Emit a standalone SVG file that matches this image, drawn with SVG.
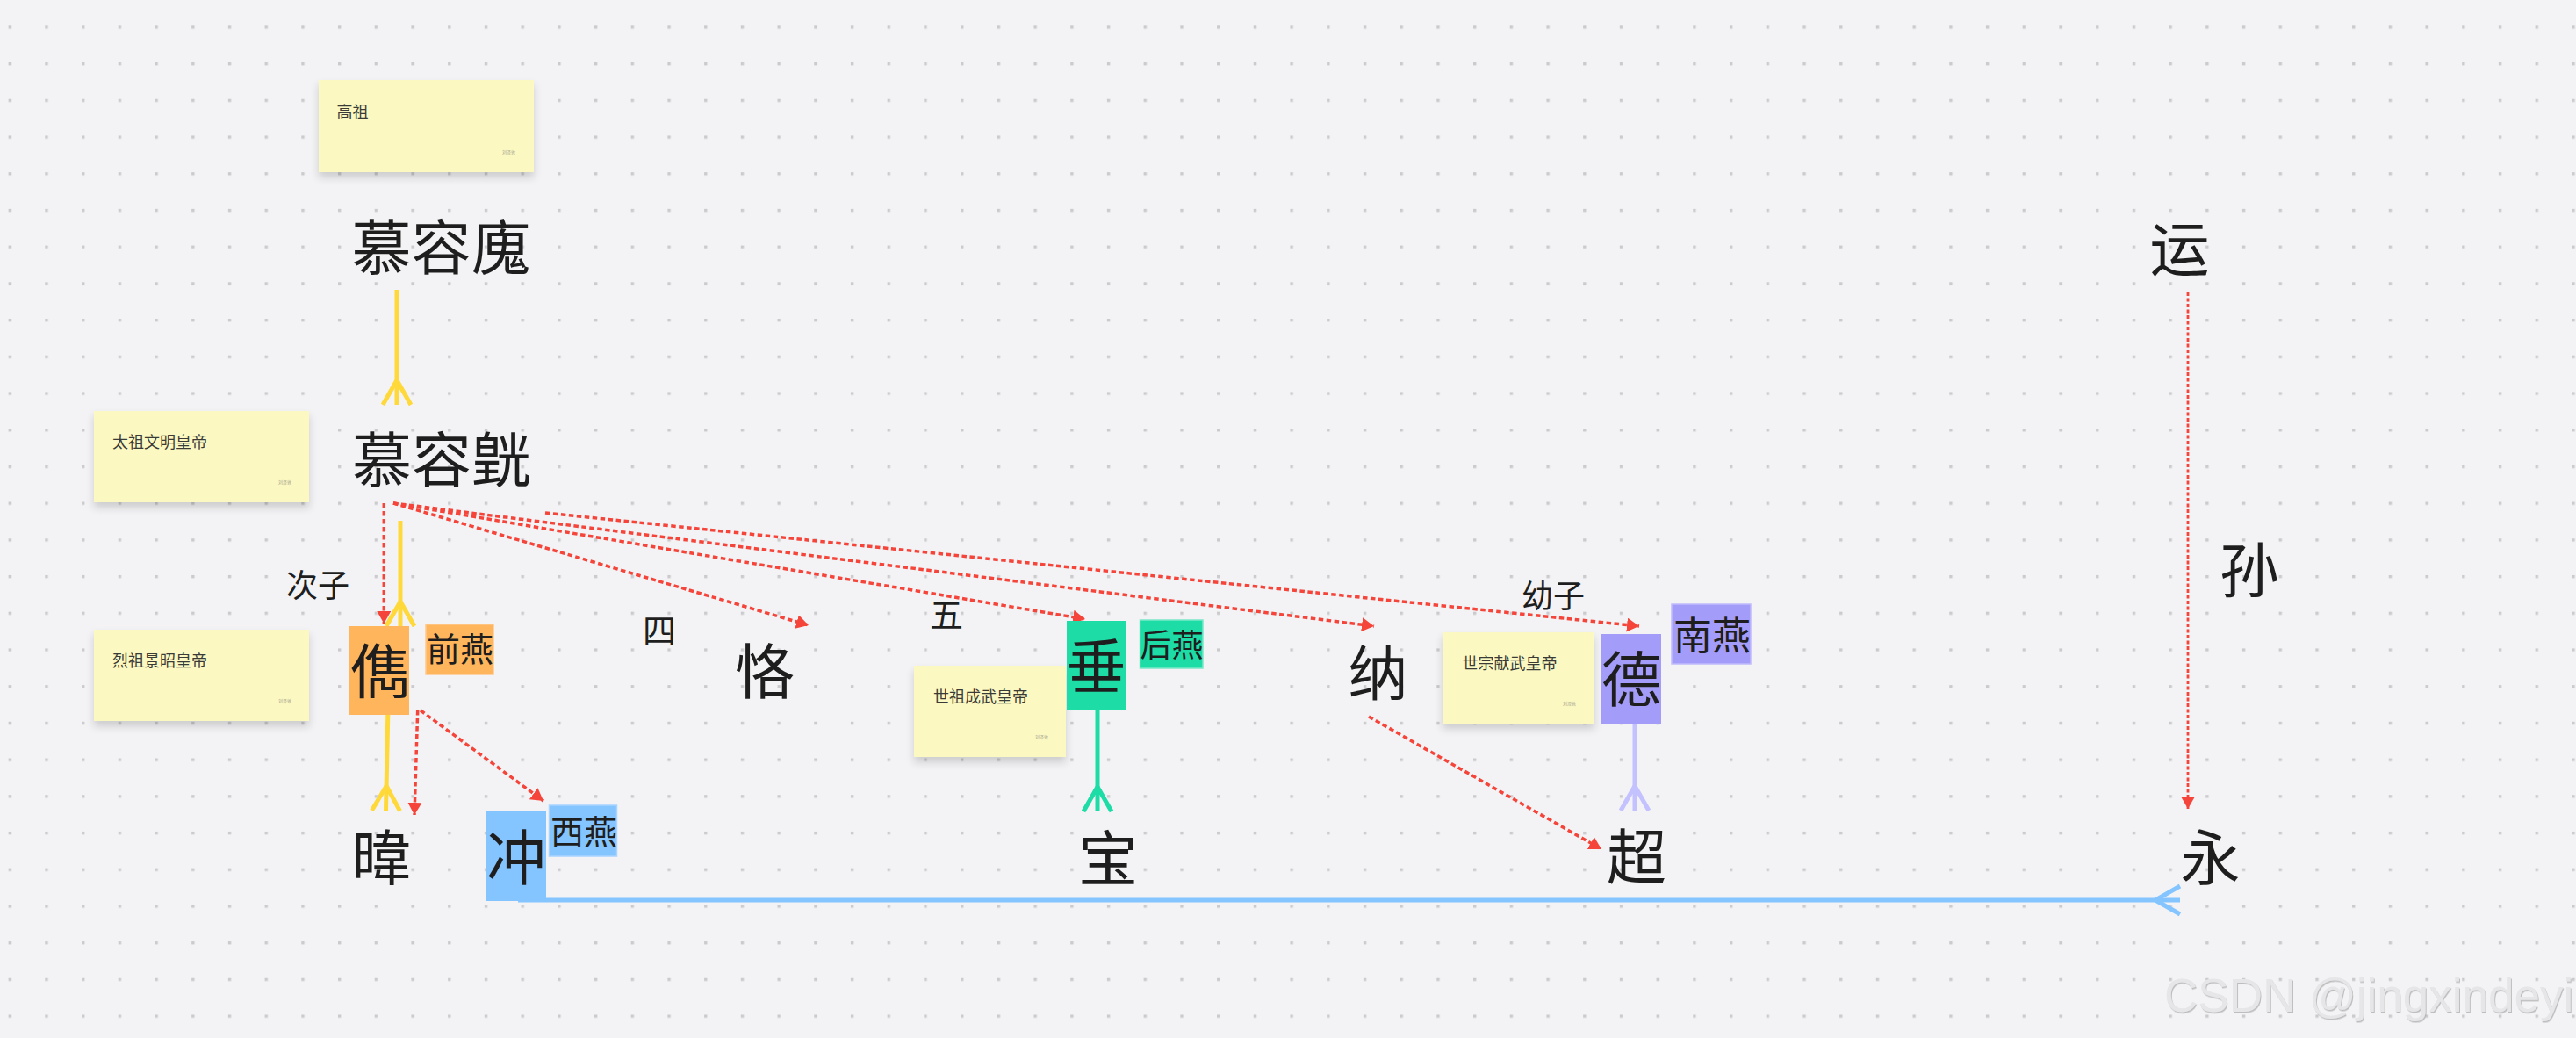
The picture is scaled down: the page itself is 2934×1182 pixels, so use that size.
<svg xmlns="http://www.w3.org/2000/svg" width="2934" height="1182" viewBox="0 0 2934 1182">
<defs>
<pattern id="dots" x="9.6" y="29.3" width="41.71" height="41.71" patternUnits="userSpaceOnUse"><rect width="3.4" height="3.4" fill="#cbcbce"/></pattern>
<filter id="shadow" x="-10%" y="-10%" width="120%" height="140%"><feDropShadow dx="0" dy="6" stdDeviation="5" flood-color="#000" flood-opacity="0.16"/></filter>
<filter id="emboss" x="-5%" y="-20%" width="110%" height="140%"><feDropShadow dx="1" dy="1.5" stdDeviation="0.6" flood-color="#9a9a9a" flood-opacity="0.6"/></filter>
<marker id="arrRed" viewBox="0 0 14 16" refX="14" refY="8" markerWidth="14" markerHeight="16" markerUnits="userSpaceOnUse" orient="auto"><path d="M0,0 L14,8 L0,16 Z" fill="#f5443a"/></marker>
<marker id="footY" viewBox="-32 -20 36 40" refX="0" refY="0" markerWidth="36" markerHeight="40" markerUnits="userSpaceOnUse" orient="auto"><path d="M-28,0 L0,-16 M-28,0 L0,16" fill="none" stroke="#ffd83a" stroke-width="5"/></marker>
<marker id="footG" viewBox="-32 -20 36 40" refX="0" refY="0" markerWidth="36" markerHeight="40" markerUnits="userSpaceOnUse" orient="auto"><path d="M-28,0 L0,-16 M-28,0 L0,16" fill="none" stroke="#1ddca6" stroke-width="5"/></marker>
<marker id="footP" viewBox="-32 -20 36 40" refX="0" refY="0" markerWidth="36" markerHeight="40" markerUnits="userSpaceOnUse" orient="auto"><path d="M-28,0 L0,-16 M-28,0 L0,16" fill="none" stroke="#c4c1ff" stroke-width="5"/></marker>
<marker id="footB" viewBox="-32 -20 36 40" refX="0" refY="0" markerWidth="36" markerHeight="40" markerUnits="userSpaceOnUse" orient="auto"><path d="M-28,0 L0,-16 M-28,0 L0,16" fill="none" stroke="#84c4ff" stroke-width="5"/></marker>
</defs>
<style>
text{font-family:"Noto Sans CJK SC","Noto Sans",sans-serif;fill:#1e1e1e}
.big{font-size:68px}
.mid{font-size:38px}
.lbl{font-size:36px}
.sticky{fill:#fbf8c1;filter:url(#shadow)}
.st{font-size:18px;fill:#3a3a36}
.tiny{font-size:5px;fill:#a8a690}
.red{fill:none;stroke:#f5443a;stroke-width:3.5;stroke-dasharray:5.5 3.5;marker-end:url(#arrRed)}
.dot{fill:none;stroke:#f5443a;stroke-width:2.8;stroke-dasharray:4 2.5;marker-end:url(#arrRed)}
.ln{fill:none;stroke-width:5}
.c{text-anchor:middle}
</style>
<rect width="2934" height="1182" fill="#f3f3f5"/>
<rect width="2934" height="1182" fill="url(#dots)"/>

<g id="stickies">
<g id="sticky-gaozu"><rect class="sticky" x="363" y="91" width="245" height="105"/><text class="st" x="383.5" y="133.5">高祖</text><text class="tiny" x="572" y="175">刘泽敦</text></g>
<g id="sticky-taizu"><rect class="sticky" x="107" y="468" width="245" height="104"/><text class="st" x="128" y="510">太祖文明皇帝</text><text class="tiny" x="317" y="551">刘泽敦</text></g>
<g id="sticky-liezu"><rect class="sticky" x="107" y="717" width="245" height="104"/><text class="st" x="128" y="758.5">烈祖景昭皇帝</text><text class="tiny" x="317" y="800">刘泽敦</text></g>
<g id="sticky-shizu"><rect class="sticky" x="1041" y="758" width="173" height="104"/><text class="st" x="1063" y="800">世祖成武皇帝</text><text class="tiny" x="1179" y="841">刘泽敦</text></g>
<g id="sticky-shizong"><rect class="sticky" x="1643" y="720" width="173" height="104"/><text class="st" x="1665.5" y="762">世宗献武皇帝</text><text class="tiny" x="1780" y="803">刘泽敦</text></g>
</g>

<g id="connectors">
<path class="ln" d="M452,330 L452,461" stroke="#ffd83a" marker-end="url(#footY)"/>
<path class="ln" d="M456,593 L456,713" stroke="#ffd83a" marker-end="url(#footY)"/>
<path class="ln" d="M441.8,814 L439.5,923" stroke="#ffd83a" marker-end="url(#footY)"/>
<path class="ln" d="M1250,808 L1250,924" stroke="#1ddca6" marker-end="url(#footG)"/>
<path class="ln" d="M1862,824 L1862,923" stroke="#c4c1ff" marker-end="url(#footP)"/>
<path class="ln" d="M590,1025 L2483,1025" stroke="#84c4ff" marker-end="url(#footB)"/>
<path class="red" d="M437.3,573 L437.3,710"/>
<path class="red" d="M448,573 L921,712"/>
<path class="red" d="M448,573 L1236,705"/>
<path class="red" d="M448,573 L1565,713"/>
<path class="red" d="M621,584 L1867,713"/>
<path class="red" d="M475.7,809 L472,928"/>
<path class="red" d="M479,809 L619,912"/>
<path class="red" d="M1559,816 L1824,967"/>
<path class="dot" d="M2492,333 L2492,921"/>
</g>

<g id="n-hui"><text class="big c" x="502.5" y="307">慕容廆</text></g>
<g id="n-huang"><text class="big c" x="503" y="549">慕容皝</text></g>
<g id="l-cizi"><text class="lbl c" x="362" y="680">次子</text></g>
<g id="n-jun"><rect x="398" y="713" width="68" height="101" fill="#ffb55c"/><text class="big c" x="432.5" y="790">儁</text></g>
<g id="t-qianyan"><rect x="485" y="711" width="77" height="57" fill="#ffb55c" stroke="#ffc98c" stroke-width="1.5"/><text class="mid c" x="524" y="753">前燕</text></g>
<g id="l-si"><text class="mid c" x="751" y="732">四</text></g>
<g id="n-ke"><text class="big c" x="871" y="790">恪</text></g>
<g id="l-wu"><text class="mid c" x="1078" y="714">五</text></g>
<g id="n-chui"><rect x="1215" y="707" width="67" height="101" fill="#1ddca6"/><text class="big c" x="1248.5" y="784">垂</text></g>
<g id="t-houyan"><rect x="1298.5" y="706" width="71.5" height="55" fill="#1ddca6" stroke="#7be8c8" stroke-width="1.5"/><text class="lbl c" x="1334.5" y="748">后燕</text></g>
<g id="n-na"><text class="big c" x="1569.5" y="792">纳</text></g>
<g id="l-youzi"><text class="lbl c" x="1769" y="692">幼子</text></g>
<g id="n-de"><rect x="1824" y="722" width="68" height="102" fill="#a49cf9"/><text class="big c" x="1858" y="799">德</text></g>
<g id="t-nanyan"><rect x="1904" y="688" width="90" height="68" fill="#a49cf9" stroke="#c0bafc" stroke-width="1.5"/><text class="c" style="font-size:44px" x="1950" y="740">南燕</text></g>
<g id="n-wei"><text class="big c" x="434.5" y="1002">暐</text></g>
<g id="n-chong"><rect x="554" y="924" width="68" height="102" fill="#84c4ff"/><text class="big c" x="588" y="1002">冲</text></g>
<g id="t-xiyan"><rect x="625.5" y="917" width="77" height="58" fill="#84c4ff" stroke="#a8d4ff" stroke-width="1.5"/><text class="mid c" x="665" y="961">西燕</text></g>
<g id="n-bao"><text class="big c" x="1262" y="1003">宝</text></g>
<g id="n-chao"><text class="big c" x="1864" y="1001">超</text></g>
<g id="n-yun"><text class="big c" x="2482.5" y="309">运</text></g>
<g id="l-sun"><text class="big c" x="2562" y="675">孙</text></g>
<g id="n-yong"><text class="big c" x="2517.5" y="1002">永</text></g>

<text x="2465" y="1152" style="font-family:'Liberation Sans',Arial,sans-serif;font-size:53px;fill:#e6e6e8;filter:url(#emboss)">CSDN @jingxindeyi</text>
</svg>
